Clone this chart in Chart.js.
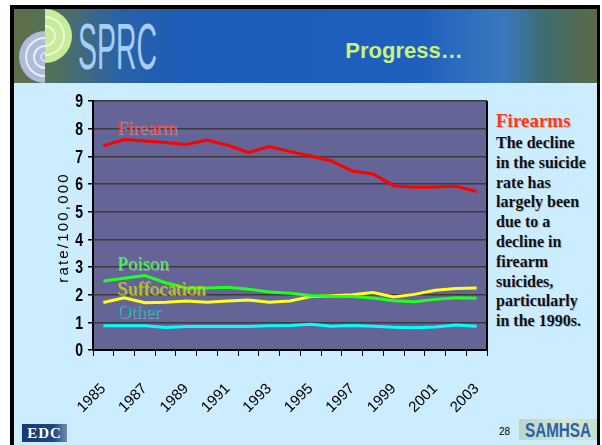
<!DOCTYPE html>
<html>
<head>
<meta charset="utf-8">
<script src="https://cdn.jsdelivr.net/npm/chart.js@4.4.1/dist/chart.umd.min.js"></script>
<style>
  html, body { margin: 0; padding: 0; background: #fff; }
  body { width: 602px; height: 445px; position: relative; overflow: hidden; }
  .slide {
    position: absolute; left: 10px; top: 5px; width: 590px; height: 450px;
    box-sizing: border-box; border: 4px solid #000; border-right-width: 3px; border-bottom: none;
    background: #ccecff;
  }
  .header {
    position: absolute; left: 0; top: 0; right: 0; height: 74px;
    background: linear-gradient(to right, #5f6f48 0%, #52705c 7%, #2a62a8 18%, #1c5cba 30%, #1f60bf 70%, #3a78bc 84%, #3f6c70 91%, #5b6a46 100%);
  }
  .header .title {
    position: absolute; left: 320px; top: 29px; width: 140px; text-align: center;
    font: bold 22px "Liberation Sans", Arial, sans-serif; color: #c8f27c;
  }
  .side {
    position: absolute; left: 496px; top: 110px; width: 100px;
    font: bold 16px "Liberation Serif", "Times New Roman", serif; color: #111;
    line-height: 19.8px; text-shadow: 1px 1px 0 rgba(0,0,0,0.2);
  }
  .side .head { color: #ff3a10; font-size: 19px; line-height: 22px; margin-bottom: 1px; }
  .edc {
    position: absolute; left: 22px; top: 424px; width: 45px; height: 18px;
    background: linear-gradient(to right, #163a72 0%, #1d4580 70%, #6f8fb0 100%);
    color: #fff; font: bold 15px "Liberation Serif", serif; text-align: center; line-height: 19px;
    letter-spacing: 1px;
  }
  .page {
    position: absolute; left: 499px; top: 426px;
    font: 10px "Liberation Sans", Arial, sans-serif; color: #000;
  }
  .samhsa {
    position: absolute; left: 519px; top: 419px; width: 78px; height: 21px;
    background: linear-gradient(to right, #b9d6c8, #d3e8cf 60%, #c8e0c8);
  }
  #chart { position: absolute; left: 0; top: 0; }
</style>
</head>
<body>
<div class="slide">
  <div class="header">
    <svg width="160" height="74" style="position:absolute;left:0;top:0">
      <defs>
        <clipPath id="lh"><rect x="0" y="0" width="31" height="74"/></clipPath>
        <clipPath id="rh"><rect x="31" y="0" width="40" height="74"/></clipPath>
      </defs>
      <g clip-path="url(#lh)">
        <circle cx="31" cy="48" r="26" fill="#aebcd8"/>
        <circle cx="31" cy="48" r="19" fill="none" stroke="#e8eef8" stroke-width="2"/>
        <circle cx="31" cy="48" r="11" fill="none" stroke="#e8eef8" stroke-width="2"/>
        <circle cx="31" cy="48" r="4" fill="none" stroke="#e8eef8" stroke-width="1.5"/>
      </g>
      <g clip-path="url(#rh)">
        <circle cx="31" cy="27" r="27" fill="#c9ec9a"/>
        <circle cx="31" cy="27" r="19" fill="none" stroke="#eaf8d6" stroke-width="2"/>
        <circle cx="31" cy="27" r="10" fill="none" stroke="#eaf8d6" stroke-width="2"/>
      </g>
      <text x="64" y="60" font-family="Liberation Sans, Arial" font-size="64" fill="#a6cdf6"
            textLength="79" lengthAdjust="spacingAndGlyphs">SPRC</text>
    </svg>
    <div class="title">Progress…</div>
  </div>
</div>
<div class="side">
  <div class="head">Firearms</div>
  The decline<br>in the suicide<br>rate has<br>largely been<br>due to a<br>decline in<br>firearm<br>suicides,<br>particularly<br>in the 1990s.
</div>
<div class="edc">EDC</div>
<div class="page">28</div>
<div class="samhsa">
  <svg width="78" height="21" style="position:absolute;left:0;top:0">
    <text x="39" y="18" text-anchor="middle" font-family="Liberation Sans, Arial" font-weight="bold"
          font-size="21" fill="#2c5fb0" textLength="66" lengthAdjust="spacingAndGlyphs">SAMHSA</text>
  </svg>
</div>
<canvas id="chart" width="602" height="445"></canvas>
<script>
const years = ["1985", "1986", "1987", "1988", "1989", "1990", "1991", "1992", "1993", "1994",
  "1995", "1996", "1997", "1998", "1999", "2000", "2001", "2002", "2003"];

const firearm = [7.38, 7.61, 7.55, 7.50, 7.43, 7.59, 7.40, 7.14, 7.35, 7.17,
  7.01, 6.83, 6.47, 6.36, 5.94, 5.88, 5.89, 5.92, 5.73];
const poison = [2.49, 2.59, 2.69, 2.43, 2.24, 2.24, 2.27, 2.20, 2.10, 2.05,
  1.97, 1.94, 1.93, 1.88, 1.78, 1.74, 1.83, 1.89, 1.87];
const suffocation = [1.72, 1.89, 1.71, 1.73, 1.77, 1.73, 1.77, 1.81, 1.73, 1.77,
  1.93, 1.96, 2.00, 2.08, 1.92, 2.01, 2.16, 2.22, 2.24];
const other = [0.88, 0.88, 0.88, 0.81, 0.85, 0.85, 0.85, 0.85, 0.88, 0.89,
  0.93, 0.86, 0.89, 0.86, 0.82, 0.80, 0.83, 0.90, 0.86];

const seriesNames = ["Firearm", "Poison", "Suffocation", "Other"];
const lineColors = ["#ff0000", "#22ff22", "#ffff22", "#00ffff"];
const labelColors = ["#ff3a3a", "#3cff3c", "#c8c800", "#009c9c"];
// y value where each series name is written inside the plot
const labelAt = [8.0, 3.07, 2.17, 1.34];

const yTicks = [0, 1, 2, 3, 4, 5, 6, 7, 8, 9];
const yTitle = "rate/100,000";

// plot background + right border
const plotFrame = {
  id: "plotFrame",
  beforeDraw(chart) {
    const { ctx, chartArea: a } = chart;
    ctx.save();
    ctx.fillStyle = "#646496";
    ctx.fillRect(a.left, a.top, a.right - a.left, a.bottom - a.top);
    ctx.restore();
  },
  afterDraw(chart) {
    const { ctx, chartArea: a, scales } = chart;
    ctx.save();
    ctx.strokeStyle = "#000";
    ctx.lineWidth = 2;
    ctx.beginPath();
    ctx.moveTo(a.right, a.top);
    ctx.lineTo(a.right, a.bottom);
    ctx.stroke();

    // y tick labels, condensed bold digits
    ctx.fillStyle = "#000";
    ctx.font = 'bold 19px "Liberation Sans", Arial, sans-serif';
    ctx.textAlign = "right";
    ctx.textBaseline = "middle";
    scales.y.ticks.forEach((t) => {
      const y = scales.y.getPixelForValue(t.value);
      ctx.save();
      ctx.translate(a.left - 10, y + 1);
      ctx.scale(0.74, 1);
      ctx.fillText(String(t.value), 0, 0);
      ctx.restore();
    });

    // axis title with wide letter spacing
    ctx.save();
    ctx.translate(63.5, (a.top + a.bottom) / 2 + 2);
    ctx.rotate(-Math.PI / 2);
    ctx.font = '15px "Liberation Sans", Arial, sans-serif';
    ctx.letterSpacing = "2.2px";
    ctx.textAlign = "center";
    ctx.fillText(yTitle, 0, 0);
    ctx.restore();
    ctx.restore();
  }
};

// series names written in the plot
const seriesLabels = {
  id: "seriesLabels",
  afterDatasetsDraw(chart) {
    const { ctx, scales } = chart;
    const x = scales.x.getPixelForValue(0) + 14;
    ctx.save();
    ctx.font = '19px "Liberation Serif", "Times New Roman", serif';
    ctx.textBaseline = "middle";
    ctx.textAlign = "left";
    seriesNames.forEach((name, i) => {
      const y = scales.y.getPixelForValue(labelAt[i]);
      ctx.fillStyle = "rgba(255,255,255,0.35)";
      ctx.fillText(name, x + 1, y + 1);
      ctx.fillStyle = labelColors[i];
      ctx.fillText(name, x, y);
    });
    ctx.restore();
  }
};

const seriesData = [firearm, poison, suffocation, other];

new Chart(document.getElementById("chart"), {
  type: "line",
  data: {
    labels: years,
    datasets: seriesData.map((d, i) => ({
      label: seriesNames[i],
      data: d,
      borderColor: lineColors[i],
      backgroundColor: lineColors[i],
      borderWidth: 3,
      pointRadius: 0,
      tension: 0,
      fill: false
    }))
  },
  options: {
    responsive: false,
    animation: false,
    layout: { padding: { left: 47, top: 101, right: 115, bottom: 0 } },
    plugins: { legend: { display: false }, tooltip: { enabled: false } },
    scales: {
      x: {
        offset: true,
        afterFit: (s) => { s.height = 95; },
        grid: { offset: true, drawOnChartArea: false, color: "#000", tickLength: 6 },
        border: { color: "#000", width: 2 },
        ticks: {
          autoSkip: false,
          maxRotation: 45,
          minRotation: 45,
          padding: 24,
          color: "#000",
          font: { family: '"Liberation Sans", Arial, sans-serif', size: 15 },
          callback: function (v, i) { return i % 2 === 0 ? years[i] : ""; }
        }
      },
      y: {
        min: 0,
        max: 9,
        afterFit: (s) => { s.width = 46; },
        afterBuildTicks: (s) => { s.ticks = yTicks.map((v) => ({ value: v })); },
        grid: { color: "#3a3a3a", lineWidth: 1.5, tickColor: "#000", tickLength: 5 },
        border: { color: "#000", width: 2 },
        ticks: { display: false }
      }
    }
  },
  plugins: [plotFrame, seriesLabels]
});
</script>
</body>
</html>
